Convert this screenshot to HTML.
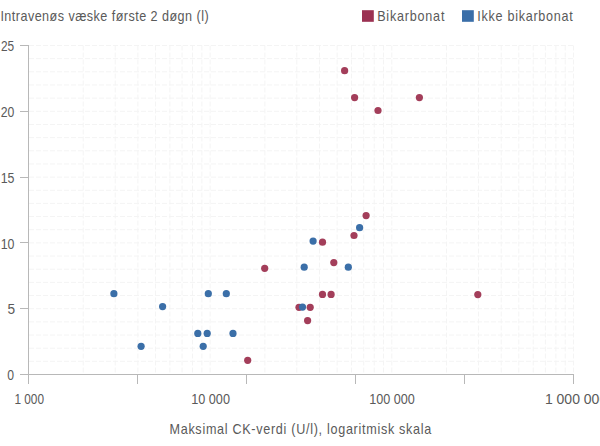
<!DOCTYPE html>
<html><head><meta charset="utf-8"><style>
html,body{margin:0;padding:0;background:#fff;width:600px;height:446px;overflow:hidden}
svg{display:block}
text{font-family:"Liberation Sans",sans-serif}
</style></head><body>
<svg width="600" height="446" viewBox="0 0 600 446">
<g stroke="#f4f4f4" stroke-width="1" stroke-dasharray="5,2"><line x1="29.00" y1="361.34" x2="573.50" y2="361.34"/><line x1="29.00" y1="348.18" x2="573.50" y2="348.18"/><line x1="29.00" y1="335.02" x2="573.50" y2="335.02"/><line x1="29.00" y1="321.86" x2="573.50" y2="321.86"/><line x1="29.00" y1="308.70" x2="573.50" y2="308.70"/><line x1="29.00" y1="295.54" x2="573.50" y2="295.54"/><line x1="29.00" y1="282.38" x2="573.50" y2="282.38"/><line x1="29.00" y1="269.22" x2="573.50" y2="269.22"/><line x1="29.00" y1="256.06" x2="573.50" y2="256.06"/><line x1="29.00" y1="242.90" x2="573.50" y2="242.90"/><line x1="29.00" y1="229.74" x2="573.50" y2="229.74"/><line x1="29.00" y1="216.58" x2="573.50" y2="216.58"/><line x1="29.00" y1="203.42" x2="573.50" y2="203.42"/><line x1="29.00" y1="190.26" x2="573.50" y2="190.26"/><line x1="29.00" y1="177.10" x2="573.50" y2="177.10"/><line x1="29.00" y1="163.94" x2="573.50" y2="163.94"/><line x1="29.00" y1="150.78" x2="573.50" y2="150.78"/><line x1="29.00" y1="137.62" x2="573.50" y2="137.62"/><line x1="29.00" y1="124.46" x2="573.50" y2="124.46"/><line x1="29.00" y1="111.30" x2="573.50" y2="111.30"/><line x1="29.00" y1="98.14" x2="573.50" y2="98.14"/><line x1="29.00" y1="84.98" x2="573.50" y2="84.98"/><line x1="29.00" y1="71.82" x2="573.50" y2="71.82"/><line x1="29.00" y1="58.66" x2="573.50" y2="58.66"/><line x1="29.00" y1="45.50" x2="573.50" y2="45.50"/><line x1="83.19" y1="45.50" x2="83.19" y2="374.00"/><line x1="115.18" y1="45.50" x2="115.18" y2="374.00"/><line x1="137.87" y1="45.50" x2="137.87" y2="374.00"/><line x1="155.48" y1="45.50" x2="155.48" y2="374.00"/><line x1="169.86" y1="45.50" x2="169.86" y2="374.00"/><line x1="182.03" y1="45.50" x2="182.03" y2="374.00"/><line x1="192.56" y1="45.50" x2="192.56" y2="374.00"/><line x1="201.85" y1="45.50" x2="201.85" y2="374.00"/><line x1="210.17" y1="45.50" x2="210.17" y2="374.00"/><line x1="264.85" y1="45.50" x2="264.85" y2="374.00"/><line x1="296.84" y1="45.50" x2="296.84" y2="374.00"/><line x1="319.54" y1="45.50" x2="319.54" y2="374.00"/><line x1="337.15" y1="45.50" x2="337.15" y2="374.00"/><line x1="351.53" y1="45.50" x2="351.53" y2="374.00"/><line x1="363.69" y1="45.50" x2="363.69" y2="374.00"/><line x1="374.23" y1="45.50" x2="374.23" y2="374.00"/><line x1="383.52" y1="45.50" x2="383.52" y2="374.00"/><line x1="391.83" y1="45.50" x2="391.83" y2="374.00"/><line x1="446.52" y1="45.50" x2="446.52" y2="374.00"/><line x1="478.51" y1="45.50" x2="478.51" y2="374.00"/><line x1="501.21" y1="45.50" x2="501.21" y2="374.00"/><line x1="518.81" y1="45.50" x2="518.81" y2="374.00"/><line x1="533.20" y1="45.50" x2="533.20" y2="374.00"/><line x1="545.36" y1="45.50" x2="545.36" y2="374.00"/><line x1="555.89" y1="45.50" x2="555.89" y2="374.00"/><line x1="565.19" y1="45.50" x2="565.19" y2="374.00"/><line x1="573.50" y1="45.50" x2="573.50" y2="374.00"/></g><g stroke="#b8b8b8" stroke-width="1" shape-rendering="crispEdges"><line x1="28.5" y1="45.0" x2="28.5" y2="375.0"/><line x1="20" y1="374.5" x2="574.0" y2="374.5"/><line x1="20" y1="374.5" x2="28.5" y2="374.5"/><line x1="20" y1="308.5" x2="28.5" y2="308.5"/><line x1="20" y1="242.5" x2="28.5" y2="242.5"/><line x1="20" y1="177.5" x2="28.5" y2="177.5"/><line x1="20" y1="111.5" x2="28.5" y2="111.5"/><line x1="20" y1="45.5" x2="28.5" y2="45.5"/><line x1="28.5" y1="374.5" x2="28.5" y2="384.0"/><line x1="137.5" y1="374.5" x2="137.5" y2="384.0"/><line x1="246.5" y1="374.5" x2="246.5" y2="384.0"/><line x1="355.5" y1="374.5" x2="355.5" y2="384.0"/><line x1="464.5" y1="374.5" x2="464.5" y2="384.0"/><line x1="573.5" y1="374.5" x2="573.5" y2="384.0"/></g><circle cx="344.6" cy="70.7" r="3.6" fill="#a33e5a"/><circle cx="354.6" cy="97.6" r="3.6" fill="#a33e5a"/><circle cx="378" cy="110.5" r="3.6" fill="#a33e5a"/><circle cx="419.4" cy="97.6" r="3.6" fill="#a33e5a"/><circle cx="366.1" cy="215.6" r="3.6" fill="#a33e5a"/><circle cx="354" cy="235.5" r="3.6" fill="#a33e5a"/><circle cx="322.5" cy="242.2" r="3.6" fill="#a33e5a"/><circle cx="333.8" cy="262.6" r="3.6" fill="#a33e5a"/><circle cx="264.7" cy="268.3" r="3.6" fill="#a33e5a"/><circle cx="322.5" cy="294.4" r="3.6" fill="#a33e5a"/><circle cx="331.1" cy="294.4" r="3.6" fill="#a33e5a"/><circle cx="299.0" cy="307.3" r="3.6" fill="#a33e5a"/><circle cx="310.2" cy="307.3" r="3.6" fill="#a33e5a"/><circle cx="307.6" cy="320.6" r="3.6" fill="#a33e5a"/><circle cx="247.7" cy="360.3" r="3.6" fill="#a33e5a"/><circle cx="477.8" cy="294.6" r="3.6" fill="#a33e5a"/><circle cx="359.6" cy="227.7" r="3.6" fill="#3b6fa8"/><circle cx="313.1" cy="241.1" r="3.6" fill="#3b6fa8"/><circle cx="304.2" cy="267.2" r="3.6" fill="#3b6fa8"/><circle cx="348.3" cy="267.2" r="3.6" fill="#3b6fa8"/><circle cx="302.5" cy="307.1" r="3.6" fill="#3b6fa8"/><circle cx="113.9" cy="293.7" r="3.6" fill="#3b6fa8"/><circle cx="162.6" cy="306.6" r="3.6" fill="#3b6fa8"/><circle cx="141.1" cy="346.3" r="3.6" fill="#3b6fa8"/><circle cx="197.8" cy="333.4" r="3.6" fill="#3b6fa8"/><circle cx="207.2" cy="333.4" r="3.6" fill="#3b6fa8"/><circle cx="233" cy="333.4" r="3.6" fill="#3b6fa8"/><circle cx="203.2" cy="346.3" r="3.6" fill="#3b6fa8"/><circle cx="208.3" cy="293.7" r="3.6" fill="#3b6fa8"/><circle cx="226.3" cy="293.7" r="3.6" fill="#3b6fa8"/><rect x="362" y="10.2" width="11.8" height="11.6" fill="#9b3152"/><rect x="462" y="10.2" width="11.8" height="11.6" fill="#3a6ea8"/><g fill="#5a5a5a" font-family="Liberation Sans, sans-serif"><text transform="translate(0.40 20.90) scale(0.9 1)" font-size="14.00" textLength="231.33" lengthAdjust="spacing">Intravenøs væske første 2 døgn (l)</text><text transform="translate(377.20 21.00) scale(0.9 1)" font-size="14.00" textLength="74.67" lengthAdjust="spacing">Bikarbonat</text><text transform="translate(477.20 21.00) scale(0.9 1)" font-size="14.00" textLength="106.22" lengthAdjust="spacing">Ikke bikarbonat</text><text transform="translate(169.50 433.70) scale(0.9 1)" font-size="14.00" textLength="290.89" lengthAdjust="spacing">Maksimal CK-verdi (U/l), logaritmisk skala</text><text x="14.40" y="404.40" font-size="14.00" textLength="29.60" lengthAdjust="spacingAndGlyphs">1 000</text><text x="191.20" y="404.30" font-size="14.00" textLength="38.80" lengthAdjust="spacingAndGlyphs">10 000</text><text x="369.20" y="404.30" font-size="14.00" textLength="45.60" lengthAdjust="spacingAndGlyphs">100 000</text><text x="544.90" y="404.30" font-size="14.00">1 000 000</text><text x="1.00" y="50.80" font-size="14.00" textLength="13.20" lengthAdjust="spacingAndGlyphs">25</text><text x="0.70" y="116.90" font-size="14.00" textLength="13.60" lengthAdjust="spacingAndGlyphs">20</text><text x="0.70" y="182.70" font-size="14.00" textLength="13.80" lengthAdjust="spacingAndGlyphs">15</text><text x="0.70" y="248.50" font-size="14.00" textLength="13.80" lengthAdjust="spacingAndGlyphs">10</text><text x="7.50" y="314.30" font-size="14.00" textLength="7.60" lengthAdjust="spacingAndGlyphs">5</text><text x="7.20" y="380.40" font-size="14.00" textLength="6.80" lengthAdjust="spacingAndGlyphs">0</text></g>
</svg>
</body></html>
